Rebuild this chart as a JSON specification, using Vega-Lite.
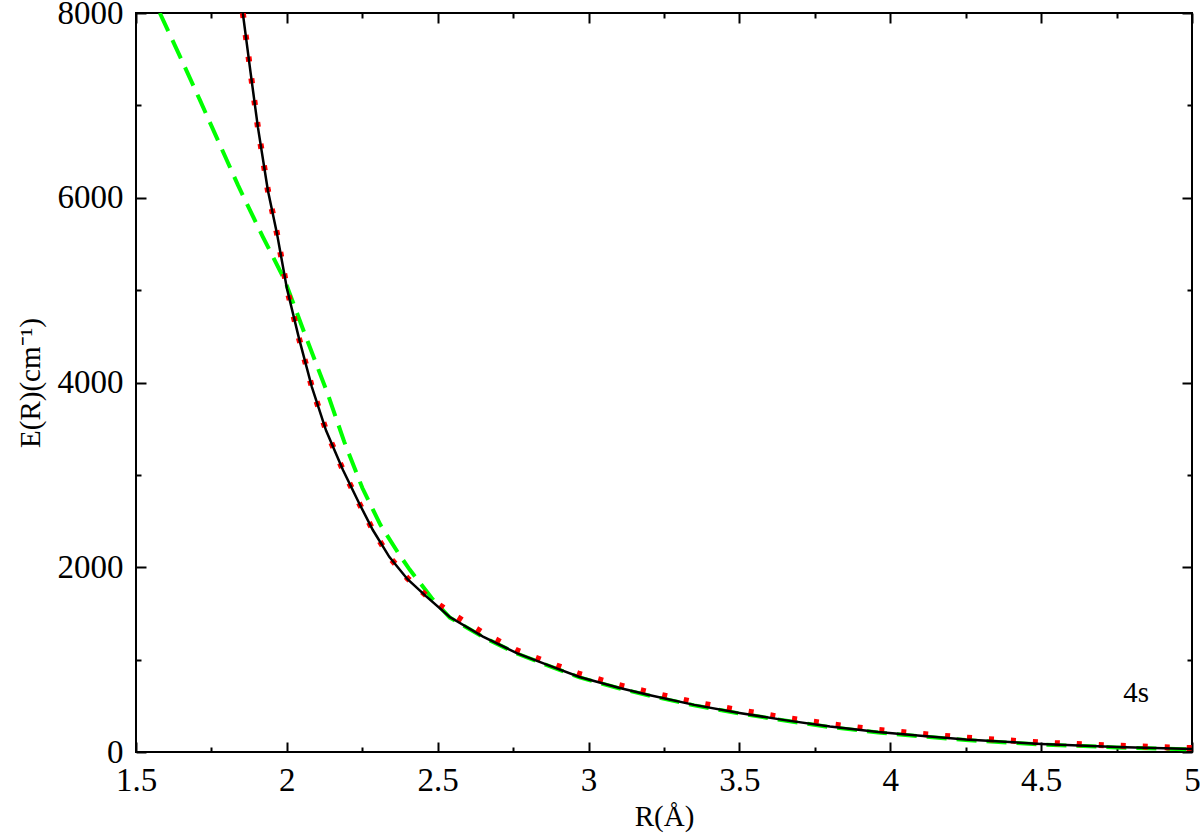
{
  "$schema": "https://vega.github.io/schema/vega-lite/v6.json",
  "autosize": {"type": "none"},
  "padding": {"left": 136, "top": 13, "right": 8, "bottom": 85},
  "width": 1056,
  "height": 739,
  "background": "white",
  "config": {
    "view": {"stroke": "black", "strokeWidth": 2},
    "axis": {
      "domain": false,
      "grid": false,
      "tickColor": "black",
      "tickWidth": 2,
      "labelFont": "Liberation Serif",
      "labelFontSize": 33,
      "labelColor": "black",
      "titleFont": "Liberation Serif",
      "titleFontSize": 29,
      "titleFontWeight": "normal",
      "titleColor": "black"
    }
  },
  "datasets": {
    "curves": [
      {"R": 1.854, "E": 8000, "series": "black"},
      {"R": 1.88, "E": 7350, "series": "black"},
      {"R": 1.904, "E": 6764, "series": "black"},
      {"R": 1.937, "E": 6082, "series": "black"},
      {"R": 1.967, "E": 5617, "series": "black"},
      {"R": 2.0, "E": 5020, "series": "black"},
      {"R": 2.04, "E": 4480, "series": "black"},
      {"R": 2.083, "E": 3950, "series": "black"},
      {"R": 2.13, "E": 3480, "series": "black"},
      {"R": 2.186, "E": 3052, "series": "black"},
      {"R": 2.24, "E": 2690, "series": "black"},
      {"R": 2.285, "E": 2403, "series": "black"},
      {"R": 2.34, "E": 2110, "series": "black"},
      {"R": 2.4, "E": 1870, "series": "black"},
      {"R": 2.46, "E": 1690, "series": "black"},
      {"R": 2.54, "E": 1461, "series": "black"},
      {"R": 2.65, "E": 1250, "series": "black"},
      {"R": 2.762, "E": 1071, "series": "black"},
      {"R": 2.87, "E": 935, "series": "black"},
      {"R": 2.97, "E": 812, "series": "black"},
      {"R": 3.1, "E": 695, "series": "black"},
      {"R": 3.2, "E": 617, "series": "black"},
      {"R": 3.35, "E": 510, "series": "black"},
      {"R": 3.5, "E": 422, "series": "black"},
      {"R": 3.65, "E": 345, "series": "black"},
      {"R": 3.8, "E": 275, "series": "black"},
      {"R": 3.96, "E": 216, "series": "black"},
      {"R": 4.1, "E": 175, "series": "black"},
      {"R": 4.25, "E": 135, "series": "black"},
      {"R": 4.5, "E": 87, "series": "black"},
      {"R": 4.75, "E": 55, "series": "black"},
      {"R": 5.0, "E": 32, "series": "black"},

      {"R": 1.854, "E": 8000, "series": "red"},
      {"R": 1.88, "E": 7350, "series": "red"},
      {"R": 1.904, "E": 6764, "series": "red"},
      {"R": 1.937, "E": 6082, "series": "red"},
      {"R": 1.967, "E": 5617, "series": "red"},
      {"R": 2.0, "E": 5020, "series": "red"},
      {"R": 2.04, "E": 4480, "series": "red"},
      {"R": 2.083, "E": 3950, "series": "red"},
      {"R": 2.13, "E": 3480, "series": "red"},
      {"R": 2.186, "E": 3052, "series": "red"},
      {"R": 2.24, "E": 2690, "series": "red"},
      {"R": 2.285, "E": 2403, "series": "red"},
      {"R": 2.34, "E": 2110, "series": "red"},
      {"R": 2.4, "E": 1880, "series": "red"},
      {"R": 2.46, "E": 1700, "series": "red"},
      {"R": 2.54, "E": 1510, "series": "red"},
      {"R": 2.65, "E": 1290, "series": "red"},
      {"R": 2.762, "E": 1100, "series": "red"},
      {"R": 2.87, "E": 965, "series": "red"},
      {"R": 2.97, "E": 845, "series": "red"},
      {"R": 3.1, "E": 725, "series": "red"},
      {"R": 3.2, "E": 648, "series": "red"},
      {"R": 3.35, "E": 540, "series": "red"},
      {"R": 3.5, "E": 452, "series": "red"},
      {"R": 3.65, "E": 372, "series": "red"},
      {"R": 3.8, "E": 302, "series": "red"},
      {"R": 3.96, "E": 240, "series": "red"},
      {"R": 4.1, "E": 197, "series": "red"},
      {"R": 4.25, "E": 155, "series": "red"},
      {"R": 4.5, "E": 102, "series": "red"},
      {"R": 4.75, "E": 68, "series": "red"},
      {"R": 5.0, "E": 42, "series": "red"},

      {"R": 1.579, "E": 8000, "series": "green"},
      {"R": 1.65, "E": 7500, "series": "green"},
      {"R": 1.712, "E": 7056, "series": "green"},
      {"R": 1.78, "E": 6560, "series": "green"},
      {"R": 1.838, "E": 6136, "series": "green"},
      {"R": 1.92, "E": 5580, "series": "green"},
      {"R": 1.993, "E": 5108, "series": "green"},
      {"R": 2.06, "E": 4520, "series": "green"},
      {"R": 2.134, "E": 3890, "series": "green"},
      {"R": 2.19, "E": 3360, "series": "green"},
      {"R": 2.25, "E": 2860, "series": "green"},
      {"R": 2.31, "E": 2460, "series": "green"},
      {"R": 2.37, "E": 2150, "series": "green"},
      {"R": 2.407, "E": 1975, "series": "green"},
      {"R": 2.48, "E": 1667, "series": "green"},
      {"R": 2.54, "E": 1455, "series": "green"},
      {"R": 2.65, "E": 1245, "series": "green"},
      {"R": 2.762, "E": 1066, "series": "green"},
      {"R": 2.87, "E": 930, "series": "green"},
      {"R": 2.97, "E": 807, "series": "green"},
      {"R": 3.1, "E": 690, "series": "green"},
      {"R": 3.2, "E": 612, "series": "green"},
      {"R": 3.35, "E": 505, "series": "green"},
      {"R": 3.5, "E": 417, "series": "green"},
      {"R": 3.65, "E": 340, "series": "green"},
      {"R": 3.8, "E": 270, "series": "green"},
      {"R": 3.96, "E": 211, "series": "green"},
      {"R": 4.1, "E": 170, "series": "green"},
      {"R": 4.25, "E": 130, "series": "green"},
      {"R": 4.5, "E": 82, "series": "green"},
      {"R": 4.75, "E": 50, "series": "green"},
      {"R": 5.0, "E": 27, "series": "green"}
    ],
    "labels": [
      {"R": 4.815, "E": 640, "label": "4s"}
    ]
  },
  "layer": [
    {
      "data": {"name": "curves"},
      "transform": [{"filter": "datum.series == 'green'"}],
      "mark": {"type": "line", "color": "#00ff00", "strokeWidth": 4, "strokeDash": [20, 10], "clip": true},
      "encoding": {
        "x": {
          "field": "R", "type": "quantitative",
          "scale": {"domain": [1.5, 5], "nice": false, "zero": false},
          "axis": {
            "orient": "bottom",
            "title": "R(Å)",
            "titlePadding": 0,
            "values": [1.5, 1.75, 2, 2.25, 2.5, 2.75, 3, 3.25, 3.5, 3.75, 4, 4.25, 4.5, 4.75, 5],
            "labelExpr": "(datum.value * 2) % 1 == 0 ? format(datum.value, '~g') : ''",
            "labelPadding": 22,
            "labelFlush": false,
            "labelOverlap": false,
            "tickSize": {"condition": {"test": "(datum.value * 2) % 1 == 0", "value": -10}, "value": -5}
          }
        },
        "y": {
          "field": "E", "type": "quantitative",
          "scale": {"domain": [0, 8000], "nice": false, "zero": true},
          "axis": {
            "orient": "left",
            "title": "E(R)(cm⁻¹)",
            "titlePadding": 12,
            "values": [0, 1000, 2000, 3000, 4000, 5000, 6000, 7000, 8000],
            "labelExpr": "datum.value % 2000 == 0 ? format(datum.value, 'd') : ''",
            "labelPadding": 23,
            "labelFlush": false,
            "labelOverlap": false,
            "tickSize": {"condition": {"test": "datum.value % 2000 == 0", "value": -10}, "value": -5}
          }
        }
      }
    },
    {
      "data": {"name": "curves"},
      "transform": [{"filter": "datum.series == 'red'"}],
      "mark": {"type": "line", "color": "#ff0000", "strokeWidth": 6, "strokeDash": [5, 17], "clip": true},
      "encoding": {
        "x": {"field": "R", "type": "quantitative", "axis": null},
        "y": {"field": "E", "type": "quantitative", "axis": null}
      }
    },
    {
      "data": {"name": "curves"},
      "transform": [{"filter": "datum.series == 'black'"}],
      "mark": {"type": "line", "color": "black", "strokeWidth": 2.5, "clip": true},
      "encoding": {
        "x": {"field": "R", "type": "quantitative", "axis": null},
        "y": {"field": "E", "type": "quantitative", "axis": null}
      }
    },
    {
      "data": {"name": "labels"},
      "mark": {"type": "text", "font": "Liberation Serif", "fontSize": 29, "color": "black", "align": "center", "baseline": "middle"},
      "encoding": {
        "x": {
          "field": "R", "type": "quantitative",
          "axis": {
            "orient": "top",
            "title": null,
            "labels": false,
            "values": [1.5, 1.75, 2, 2.25, 2.5, 2.75, 3, 3.25, 3.5, 3.75, 4, 4.25, 4.5, 4.75, 5],
            "tickSize": {"condition": {"test": "(datum.value * 2) % 1 == 0", "value": -10}, "value": -5}
          }
        },
        "y": {
          "field": "E", "type": "quantitative",
          "axis": {
            "orient": "right",
            "title": null,
            "labels": false,
            "values": [0, 1000, 2000, 3000, 4000, 5000, 6000, 7000, 8000],
            "tickSize": {"condition": {"test": "datum.value % 2000 == 0", "value": -10}, "value": -5}
          }
        },
        "text": {"field": "label", "type": "nominal"}
      }
    }
  ],
  "resolve": {"axis": {"x": "independent", "y": "independent"}}
}
